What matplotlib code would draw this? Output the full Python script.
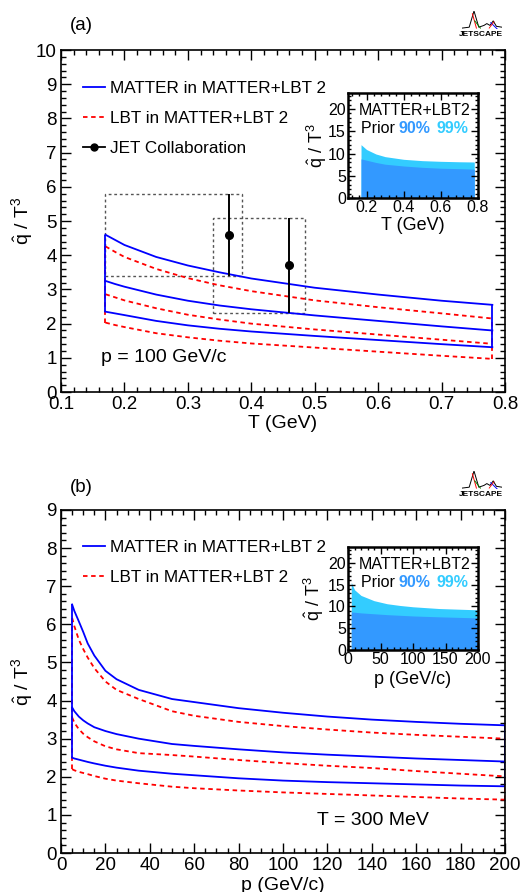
import numpy as np
import matplotlib
matplotlib.use("Agg")
import matplotlib.pyplot as plt
from matplotlib.ticker import MultipleLocator
from matplotlib.lines import Line2D
from matplotlib.patches import Rectangle

plt.rcParams['font.family'] = ['Liberation Sans', 'DejaVu Sans']
plt.rcParams['mathtext.fontset'] = 'custom'
plt.rcParams['mathtext.rm'] = 'Liberation Sans'
plt.rcParams['mathtext.it'] = 'Liberation Sans:italic'

# ---- panel (a): qhat/T^3 vs T at p = 100 GeV/c ----
T_grid = [0.17, 0.185, 0.2, 0.25, 0.3, 0.35, 0.4, 0.5, 0.6, 0.7, 0.78]
matter_hi_a = [4.60, 4.45, 4.30, 3.95, 3.70, 3.50, 3.32, 3.05, 2.85, 2.67, 2.55]
matter_mid_a = [3.25, 3.16, 3.08, 2.85, 2.67, 2.53, 2.42, 2.24, 2.08, 1.92, 1.80]
matter_lo_a = [2.35, 2.30, 2.25, 2.08, 1.95, 1.85, 1.77, 1.64, 1.52, 1.40, 1.31]
lbt_hi_a = [4.26, 4.10, 3.95, 3.60, 3.33, 3.12, 2.95, 2.68, 2.48, 2.30, 2.15]
lbt_mid_a = [2.86, 2.77, 2.68, 2.45, 2.26, 2.12, 2.00, 1.83, 1.68, 1.53, 1.41]
lbt_lo_a = [2.03, 1.96, 1.90, 1.72, 1.60, 1.50, 1.42, 1.30, 1.18, 1.06, 0.97]

# JET collaboration points
jet_T = [0.365, 0.46]
jet_q = [4.6, 3.7]
jet_lo = [3.4, 2.3]
jet_hi = [5.8, 5.1]
jet_Tlo = [0.17, 0.34]
jet_Thi = [0.385, 0.485]

# inset (a): prior bands
prior_T = [0.17, 0.2, 0.25, 0.3, 0.4, 0.5, 0.6, 0.7, 0.78]
prior99_a = [12.0, 10.9, 9.9, 9.3, 8.7, 8.4, 8.25, 8.15, 8.1]
prior90_a = [8.8, 8.5, 8.0, 7.6, 7.2, 6.9, 6.7, 6.6, 6.5]

# ---- panel (b): qhat/T^3 vs p at T = 300 MeV ----
p_grid = [5, 6, 8, 10, 12, 15, 20, 25, 35, 50, 60, 80, 100, 120, 140, 160, 180, 200]
matter_hi_b = [6.52, 6.35, 6.08, 5.80, 5.50, 5.18, 4.78, 4.56, 4.28, 4.04, 3.96, 3.80, 3.68, 3.58, 3.50, 3.44, 3.39, 3.35]
matter_mid_b = [3.82, 3.72, 3.58, 3.48, 3.40, 3.30, 3.20, 3.12, 3.00, 2.86, 2.81, 2.72, 2.64, 2.58, 2.53, 2.48, 2.44, 2.40]
matter_lo_b = [2.50, 2.48, 2.45, 2.42, 2.39, 2.35, 2.29, 2.24, 2.16, 2.08, 2.04, 1.96, 1.90, 1.86, 1.83, 1.80, 1.77, 1.75]
lbt_hi_b = [6.17, 5.95, 5.60, 5.35, 5.13, 4.85, 4.50, 4.28, 4.04, 3.72, 3.60, 3.44, 3.33, 3.24, 3.16, 3.10, 3.05, 3.00]
lbt_mid_b = [3.56, 3.42, 3.25, 3.13, 3.04, 2.93, 2.80, 2.72, 2.62, 2.57, 2.53, 2.44, 2.36, 2.29, 2.23, 2.15, 2.08, 2.01]
lbt_lo_b = [2.20, 2.17, 2.13, 2.10, 2.07, 2.02, 1.95, 1.90, 1.83, 1.74, 1.70, 1.64, 1.59, 1.55, 1.51, 1.47, 1.43, 1.40]

# inset (b): prior bands
prior_p = [5, 10, 20, 40, 60, 80, 100, 140, 200]
prior99_b = [15.5, 13.8, 12.5, 11.3, 10.6, 10.2, 9.9, 9.5, 9.2]
prior90_b = [8.7, 8.65, 8.5, 8.3, 8.1, 7.95, 7.8, 7.6, 7.35]

BLUE = '#0000ff'
RED = '#ff0000'
DARK = '#3399ff'
LIGHT = '#33ccff'
DASH = (0, (2.5, 2))
YLAB = r'$\hat{\mathrm{q}}$ / T$^{3}$'


def style_axes(ax, lw=1.2, major=7, minor=3.5, size=13.5):
    for s in ax.spines.values():
        s.set_linewidth(lw)
    ax.tick_params(which='both', direction='in', top=True, right=True,
                   width=1, labelsize=size, pad=3)
    ax.tick_params(which='major', length=major)
    ax.tick_params(which='minor', length=minor)


def draw_band(ax, x, hi, mid, lo, color, ls):
    for y in (hi, mid, lo):
        ax.plot(x, y, color=color, linestyle=ls, linewidth=1.3)
    ax.vlines([x[0], x[-1]], [lo[0], lo[-1]], [hi[0], hi[-1]],
              colors=color, linestyles=ls, linewidth=1.3)


def draw_inset(ax, x, p99, p90, xlim, xmaj, xmin, xlabel, ylab_x, xlab_y):
    ax.fill_between(x, 0, p99, color=LIGHT, linewidth=0)
    ax.fill_between(x, 0, p90, color=DARK, linewidth=0)
    ax.set_xlim(*xlim)
    ax.set_ylim(0, 23.6)
    ax.xaxis.set_major_locator(MultipleLocator(xmaj))
    ax.xaxis.set_minor_locator(MultipleLocator(xmin))
    ax.yaxis.set_major_locator(MultipleLocator(5))
    ax.yaxis.set_minor_locator(MultipleLocator(1))
    style_axes(ax, lw=1.8, major=5, minor=2.5, size=11.5)
    ax.tick_params(pad=1.5)
    ax.set_xlabel(xlabel, fontsize=13, va='center')
    ax.xaxis.set_label_coords(0.5, xlab_y)
    ax.set_ylabel(YLAB, fontsize=13, va='center')
    ax.yaxis.set_label_coords(ylab_x, 0.5)
    ax.text(0.08, 0.83, 'MATTER+LBT2', transform=ax.transAxes, fontsize=11.5,
            va='center', ha='left')
    ax.text(0.1, 0.66, 'Prior ', transform=ax.transAxes, fontsize=11.5,
            va='center', ha='left')
    ax.text(0.39, 0.66, '90%', transform=ax.transAxes, fontsize=11.5,
            va='center', ha='left', color=DARK, fontweight='bold')
    ax.text(0.68, 0.66, '99%', transform=ax.transAxes, fontsize=11.5,
            va='center', ha='left', color=LIGHT, fontweight='bold')


def draw_logo(fig, top):
    # small JETSCAPE badge: sketch of peaks above the name
    lg = fig.add_axes([462 / 522, 1 - (top + 19) / 892, 40 / 522, 18 / 892])
    lg.axis('off')
    lg.set_xlim(0, 1)
    lg.set_ylim(0, 1)
    lg.plot([0, 0.18, 0.3, 0.42, 0.55, 0.62, 0.7, 0.78, 0.86, 1.0],
            [0.05, 0.1, 1.0, 0.1, 0.2, 0.3, 0.2, 0.45, 0.15, 0.1], color='black', lw=0.7)
    lg.plot([0.26, 0.36], [0.85, 0.05], color='red', lw=0.7)
    lg.plot([0.32, 0.46], [0.45, 0.05], color='green', lw=0.7)
    lg.plot([0.72, 0.88], [0.35, 0.0], color='blue', lw=0.7)
    lg.plot([0.68, 0.8], [0.05, 0.4], color='red', lw=0.6)
    fig.text(481 / 522, 1 - (top + 25) / 892, 'JETSCAPE', fontsize=6,
             fontweight='bold', ha='center', va='center')


fig = plt.figure(figsize=(5.22, 8.92), dpi=100)

# ---------------- panel (a) ----------------
ax1 = fig.add_axes([0.1169, 0.5605, 0.8506, 0.3834])
draw_band(ax1, T_grid, lbt_hi_a, lbt_mid_a, lbt_lo_a, RED, DASH)
draw_band(ax1, T_grid, matter_hi_a, matter_mid_a, matter_lo_a, BLUE, '-')
for i in range(len(jet_T)):
    ax1.add_patch(Rectangle((jet_Tlo[i], jet_lo[i]), jet_Thi[i] - jet_Tlo[i],
                            jet_hi[i] - jet_lo[i], fill=False,
                            edgecolor='#555555', linestyle=(0, (2, 2)),
                            linewidth=1.0))
ax1.errorbar(jet_T, jet_q,
             yerr=[np.array(jet_q) - np.array(jet_lo), np.array(jet_hi) - np.array(jet_q)],
             fmt='o', color='black', ms=5.5, elinewidth=1.4, capsize=0)
ax1.set_xlim(0.1, 0.8)
ax1.set_ylim(0, 10)
ax1.xaxis.set_major_locator(MultipleLocator(0.1))
ax1.xaxis.set_minor_locator(MultipleLocator(0.02))
ax1.yaxis.set_major_locator(MultipleLocator(1))
ax1.yaxis.set_minor_locator(MultipleLocator(0.2))
ax1.set_xticks(np.arange(0.1, 0.81, 0.1))
ax1.set_xticklabels(['%.1f' % v for v in np.arange(0.1, 0.81, 0.1)])
style_axes(ax1)
ax1.set_xlabel('T (GeV)', fontsize=14, va='center')
ax1.xaxis.set_label_coords(0.5, -0.092)
ax1.set_ylabel(YLAB, fontsize=14, va='center')
ax1.yaxis.set_label_coords(-0.088, 0.5)
handles = [Line2D([], [], color=BLUE, lw=1.3),
           Line2D([], [], color=RED, lw=1.3, linestyle=DASH),
           Line2D([], [], color='black', lw=1.3, marker='o', ms=5)]
ax1.legend(handles, ['MATTER in MATTER+LBT 2', 'LBT in MATTER+LBT 2', 'JET Collaboration'],
           loc='upper left', bbox_to_anchor=(0.05, 0.909), frameon=False,
           fontsize=12.3, handlelength=1.25, handletextpad=0.3,
           labelspacing=0.87, borderpad=0, borderaxespad=0)
ax1.text(0.09, 0.1, 'p = 100 GeV/c', transform=ax1.transAxes, fontsize=14,
         va='center', ha='left')
fig.text(0.134, 0.971, '(a)', fontsize=13.5, va='center', ha='left')
draw_logo(fig, 10)

ins1 = fig.add_axes([0.6667, 0.778, 0.249, 0.1177])
draw_inset(ins1, prior_T, prior99_a, prior90_a, (0.1, 0.8), 0.2, 0.04,
           'T (GeV)', -0.24, -0.257)

# ---------------- panel (b) ----------------
ax2 = fig.add_axes([0.1169, 0.0437, 0.8506, 0.3846])
draw_band(ax2, p_grid, lbt_hi_b, lbt_mid_b, lbt_lo_b, RED, DASH)
draw_band(ax2, p_grid, matter_hi_b, matter_mid_b, matter_lo_b, BLUE, '-')
ax2.set_xlim(0, 200)
ax2.set_ylim(0, 9)
ax2.xaxis.set_major_locator(MultipleLocator(20))
ax2.xaxis.set_minor_locator(MultipleLocator(5))
ax2.yaxis.set_major_locator(MultipleLocator(1))
ax2.yaxis.set_minor_locator(MultipleLocator(0.2))
style_axes(ax2)
ax2.set_xlabel('p (GeV/c)', fontsize=14, va='center')
ax2.xaxis.set_label_coords(0.5, -0.094)
ax2.set_ylabel(YLAB, fontsize=14, va='center')
ax2.yaxis.set_label_coords(-0.088, 0.5)
ax2.legend(handles[:2], ['MATTER in MATTER+LBT 2', 'LBT in MATTER+LBT 2'],
           loc='upper left', bbox_to_anchor=(0.05, 0.913), frameon=False,
           fontsize=12.3, handlelength=1.25, handletextpad=0.3,
           labelspacing=0.87, borderpad=0, borderaxespad=0)
ax2.text(0.576, 0.095, 'T = 300 MeV', transform=ax2.transAxes, fontsize=14,
         va='center', ha='left')
fig.text(0.134, 0.454, '(b)', fontsize=13.5, va='center', ha='left')
draw_logo(fig, 470)

ins2 = fig.add_axes([0.6667, 0.2713, 0.249, 0.1155])
draw_inset(ins2, prior_p, prior99_b, prior90_b, (0, 200), 50, 10,
           'p (GeV/c)', -0.26, -0.29)

fig.savefig('out.png', dpi=100)
